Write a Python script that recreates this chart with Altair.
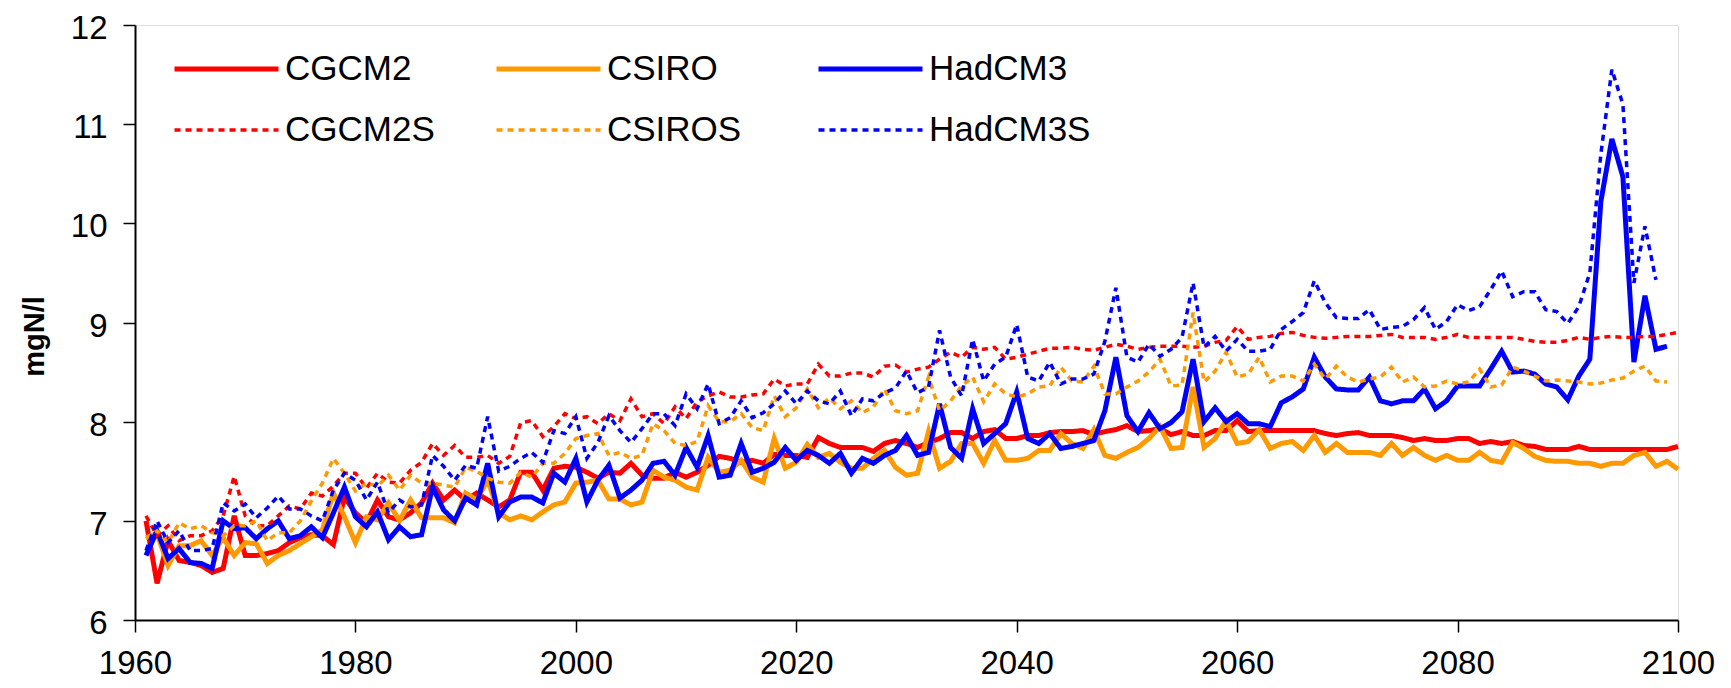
import altair as alt
import pandas as pd

START_YEAR = 1961
SERIES = ["CGCM2", "CSIRO", "HadCM3", "CGCM2S", "CSIROS", "HadCM3S"]
COLORS = ["#FF0000", "#FF9900", "#0000FF", "#FF0000", "#FF9900", "#0000FF"]
DASHES = [[1, 0], [1, 0], [1, 0], [6, 5], [6, 5], [6, 5]]
WIDTHS = [5, 5, 5, 3.5, 3.5, 3.5]
X_TICKS = [1960, 1980, 2000, 2020, 2040, 2060, 2080, 2100]
Y_TICKS = [6, 7, 8, 9, 10, 11, 12]

# CGCM2 (1961-2100)
cgcm2 = [
    7.0, 6.37, 6.8, 6.6, 6.58, 6.55, 6.48, 6.52, 7.05, 6.65,
    6.65, 6.67, 6.7, 6.78, 6.83, 6.86, 6.85, 6.76, 7.24, 7.08,
    6.98, 7.21, 7.04, 7.01, 7.08, 7.18, 7.38, 7.21, 7.31, 7.21,
    7.28, 7.21, 7.14, 7.21, 7.49, 7.49, 7.31, 7.53, 7.55, 7.54,
    7.49, 7.43, 7.49, 7.48, 7.58, 7.46, 7.43, 7.43, 7.49, 7.44,
    7.49, 7.56, 7.65, 7.63, 7.59, 7.61, 7.58, 7.67, 7.66, 7.66,
    7.64, 7.84, 7.78, 7.74, 7.74, 7.74, 7.7, 7.78, 7.81, 7.78,
    7.74, 7.79, 7.83, 7.89, 7.89, 7.83, 7.9, 7.92, 7.83, 7.83,
    7.86, 7.86, 7.89, 7.9, 7.9, 7.91, 7.87, 7.9, 7.92, 7.96,
    7.9, 7.91, 7.93, 7.87, 7.9, 7.86, 7.86, 7.91, 7.91, 8.01,
    7.9, 7.91, 7.91, 7.91, 7.91, 7.91, 7.91, 7.88, 7.86, 7.88,
    7.89, 7.86, 7.86, 7.86, 7.84, 7.81, 7.83, 7.81, 7.81, 7.83,
    7.83, 7.78, 7.8, 7.78, 7.8, 7.76, 7.75, 7.72, 7.72, 7.72,
    7.75, 7.72, 7.72, 7.72, 7.72, 7.72, 7.72, 7.72, 7.72, 7.75,
]

# CSIRO (1961-2100)
csiro = [
    6.83, 6.87, 6.55, 6.75, 6.75, 6.8, 6.65, 6.83, 6.65, 6.78,
    6.77, 6.57, 6.65, 6.7, 6.77, 6.84, 6.91, 7.28, 7.04, 6.78,
    7.04, 7.01, 7.18, 7.0, 7.21, 7.03, 7.03, 7.03, 6.98, 7.28,
    7.21, 7.41, 7.08, 7.01, 7.05, 7.01, 7.09, 7.16, 7.19, 7.38,
    7.39, 7.41, 7.22, 7.22, 7.16, 7.19, 7.51, 7.44, 7.41, 7.34,
    7.31, 7.64, 7.49, 7.51, 7.61, 7.44, 7.39, 7.83, 7.53, 7.59,
    7.77, 7.64, 7.68, 7.59, 7.53, 7.53, 7.63, 7.71, 7.54, 7.46,
    7.48, 7.9, 7.53, 7.6, 7.78, 7.78, 7.58, 7.81, 7.61, 7.61,
    7.63, 7.71, 7.71, 7.88, 7.78, 7.73, 7.92, 7.66, 7.63, 7.69,
    7.74, 7.83, 7.95, 7.73, 7.74, 8.35, 7.74, 7.83, 8.01, 7.78,
    7.8, 7.92, 7.73, 7.78, 7.8, 7.71, 7.86, 7.69, 7.78, 7.69,
    7.69, 7.69, 7.66, 7.78, 7.66, 7.74, 7.66, 7.61, 7.66, 7.61,
    7.61, 7.69, 7.61, 7.59, 7.79, 7.73, 7.65, 7.61, 7.6, 7.6,
    7.58, 7.58, 7.55, 7.58, 7.58, 7.66, 7.69, 7.55, 7.6, 7.52,
]

# HadCM3 (1961-2099)
hadcm3 = [
    6.65, 6.9, 6.62, 6.72, 6.58, 6.57, 6.52, 7.0, 6.92, 6.93,
    6.82, 6.92, 7.0, 6.82, 6.85, 6.94, 6.83, 7.08, 7.34, 7.04,
    6.94, 7.09, 6.81, 6.94, 6.84, 6.86, 7.34, 7.11, 7.0, 7.23,
    7.16, 7.58, 7.04, 7.19, 7.24, 7.24, 7.18, 7.48, 7.39, 7.63,
    7.19, 7.41, 7.56, 7.23, 7.31, 7.41, 7.58, 7.6, 7.46, 7.74,
    7.54, 7.86, 7.44, 7.46, 7.78, 7.49, 7.53, 7.59, 7.74, 7.61,
    7.71, 7.66, 7.58, 7.68, 7.48, 7.63, 7.58, 7.66, 7.71, 7.86,
    7.66, 7.69, 8.18, 7.74, 7.63, 8.13, 7.78, 7.88, 7.98, 8.3,
    7.83, 7.78, 7.88, 7.73, 7.75, 7.78, 7.81, 8.11, 8.65, 8.06,
    7.9, 8.09, 7.93, 7.99, 8.1, 8.63, 8.0, 8.14, 8.0, 8.08,
    7.98, 7.98, 7.95, 8.19, 8.25, 8.33, 8.65, 8.45, 8.33, 8.32,
    8.32, 8.45, 8.21, 8.18, 8.21, 8.21, 8.33, 8.13, 8.21, 8.36,
    8.36, 8.36, 8.53, 8.71, 8.5, 8.51, 8.48, 8.38, 8.35, 8.22,
    8.46, 8.63, 10.22, 10.85, 10.47, 8.6, 9.27, 8.73, 8.76,
]

# CGCM2S (1961-2100)
cgcm2s = [
    7.05, 6.85, 6.95, 6.8, 6.85, 6.85, 6.9, 7.05, 7.45, 7.05,
    6.95, 6.95, 7.05, 7.15, 7.12, 7.28, 7.25, 7.35, 7.48, 7.48,
    7.33, 7.48, 7.39, 7.38, 7.51, 7.59, 7.78, 7.66, 7.76, 7.64,
    7.64, 7.66, 7.58, 7.65, 7.99, 8.01, 7.85, 7.95, 8.08, 8.03,
    8.05, 7.98, 8.08, 8.01, 8.23, 8.05, 8.08, 7.98, 8.15, 8.03,
    8.2, 8.26, 8.3, 8.25, 8.25, 8.27, 8.28, 8.43, 8.36, 8.38,
    8.38, 8.58, 8.46, 8.46, 8.49, 8.49, 8.45, 8.56, 8.57, 8.5,
    8.53, 8.55, 8.63, 8.7, 8.65, 8.75, 8.73, 8.75, 8.63, 8.65,
    8.68, 8.71, 8.74, 8.74, 8.75, 8.73, 8.72, 8.75, 8.78, 8.76,
    8.73, 8.75, 8.76, 8.76, 8.76, 8.75, 8.76, 8.8, 8.82, 8.96,
    8.83, 8.85, 8.86, 8.89, 8.9, 8.87, 8.85, 8.84, 8.85, 8.86,
    8.86, 8.86, 8.87, 8.88, 8.85, 8.85, 8.85, 8.83, 8.85, 8.88,
    8.85, 8.85, 8.85, 8.85, 8.85, 8.83, 8.81, 8.8, 8.8, 8.82,
    8.85, 8.83, 8.85, 8.86, 8.85, 8.85, 8.86, 8.86, 8.88, 8.9,
]

# CSIROS (1961-2099)
csiros = [
    6.82, 6.9, 6.78, 6.98, 6.92, 6.95, 6.88, 6.85, 6.95, 6.95,
    7.0, 6.8, 6.88, 6.88, 7.0, 7.2, 7.38, 7.63, 7.48, 7.3,
    7.38, 7.35, 7.46, 7.31, 7.46, 7.38, 7.38, 7.36, 7.34, 7.54,
    7.5, 7.43, 7.39, 7.38, 7.49, 7.44, 7.58, 7.58, 7.68, 7.83,
    7.86, 7.88, 7.66, 7.69, 7.63, 7.66, 7.98, 7.91, 7.78, 7.76,
    7.8, 8.16, 8.0, 8.0, 8.08, 7.94, 7.91, 8.26, 8.05, 8.14,
    8.33, 8.14, 8.24, 8.13, 8.21, 8.09, 8.15, 8.33, 8.11, 8.08,
    8.11, 8.45, 8.11, 8.21, 8.36, 8.45, 8.2, 8.38, 8.28, 8.25,
    8.28, 8.35, 8.36, 8.55, 8.41, 8.4, 8.56, 8.28, 8.28, 8.35,
    8.41, 8.5, 8.63, 8.36, 8.37, 9.1, 8.4, 8.51, 8.7, 8.45,
    8.48, 8.65, 8.4, 8.46, 8.46, 8.41, 8.58, 8.43, 8.56, 8.45,
    8.4, 8.43, 8.45, 8.55, 8.4, 8.45, 8.35, 8.36, 8.41, 8.38,
    8.4, 8.53, 8.35, 8.37, 8.55, 8.51, 8.46, 8.41, 8.42, 8.41,
    8.4, 8.38, 8.39, 8.42, 8.44, 8.51, 8.56, 8.41, 8.4,
]

# HadCM3S (1961-2098)
hadcm3s = [
    6.7, 7.0, 6.78, 6.9, 6.7, 6.7, 6.72, 7.18, 7.1, 7.17,
    7.03, 7.13, 7.25, 7.12, 7.12, 7.05, 7.0, 7.31, 7.48, 7.41,
    7.21, 7.39, 7.08, 7.21, 7.14, 7.16, 7.66, 7.55, 7.41, 7.56,
    7.53, 8.05, 7.5, 7.55, 7.63, 7.69, 7.59, 7.91, 7.88, 8.05,
    7.63, 7.79, 8.06, 7.91, 7.79, 7.93, 8.08, 8.08, 7.96, 8.28,
    8.13, 8.38, 7.98, 8.04, 8.21, 8.04, 8.09, 8.18, 8.31, 8.18,
    8.31, 8.21, 8.18, 8.31, 8.06, 8.23, 8.21, 8.29, 8.34, 8.51,
    8.29, 8.35, 8.92, 8.45, 8.26, 8.83, 8.41, 8.58, 8.65, 8.98,
    8.45, 8.41, 8.6, 8.38, 8.43, 8.43, 8.48, 8.81, 9.35, 8.65,
    8.6, 8.78, 8.66, 8.73, 8.85, 9.4, 8.75, 8.86, 8.71, 8.83,
    8.71, 8.71, 8.73, 8.93, 9.01, 9.1, 9.42, 9.2, 9.05, 9.04,
    9.04, 9.13, 8.93, 8.95, 8.96, 9.03, 9.15, 8.93, 9.01, 9.18,
    9.12, 9.16, 9.33, 9.52, 9.26, 9.31, 9.31, 9.13, 9.11, 8.99,
    9.16, 9.5, 10.7, 11.55, 11.2, 9.4, 9.97, 9.43,
]

VALUES = [cgcm2, csiro, hadcm3, cgcm2s, csiros, hadcm3s]

rows = []
for name, vals, w in zip(SERIES, VALUES, WIDTHS):
    for i, v in enumerate(vals):
        rows.append({"year": START_YEAR + i, "value": v, "model": name, "w": w})
df = pd.DataFrame(rows)

FONT = "Liberation Sans"

legend = alt.Legend(
    title=None,
    orient="none",
    direction="horizontal",
    legendX=37,
    legendY=24,
    columns=3,
    gridAlign="all",
    columnPadding=47,
    rowPadding=21,
    clipHeight=40,
    padding=0,
    symbolType="stroke",
    symbolSize=10816,
    symbolStrokeWidth=alt.ExprRef(
        expr="(isValid(datum) && indexof(['CGCM2S','CSIROS','HadCM3S'], datum.value) >= 0 ? 3.5 : 5)"
    ),
    labelFont=FONT,
    labelFontSize=35,
    labelColor="black",
    labelOffset=4,
    labelLimit=400,
)

chart = (
    alt.Chart(df)
    .mark_line(strokeCap="butt")
    .encode(
        x=alt.X(
            "year:Q",
            scale=alt.Scale(domain=[1960, 2100], nice=False, zero=False),
            axis=alt.Axis(
                values=X_TICKS,
                format="d",
                title=None,
                labelFlush=False,
                labelOverlap=False,
                tickSize=12,
                tickWidth=1.5,
                tickColor="black",
                domainColor="black",
                domainWidth=2,
                labelPadding=15,
                labelFont=FONT,
                labelFontSize=33,
                labelColor="black",
                grid=False,
            ),
        ),
        y=alt.Y(
            "value:Q",
            scale=alt.Scale(domain=[6, 12], nice=False, zero=False),
            axis=alt.Axis(
                values=Y_TICKS,
                format="d",
                title="mgN/l",
                titleFont=FONT,
                titleFontSize=29,
                titleFontWeight="bold",
                titleColor="black",
                titleAngle=270,
                titleX=-101,
                titleY=311,
                titleAlign="center",
                titleBaseline="middle",
                tickSize=12,
                tickWidth=1.5,
                tickColor="black",
                domainColor="black",
                domainWidth=2,
                labelPadding=16,
                labelOffset=3.5,
                labelFont=FONT,
                labelFontSize=33,
                labelColor="black",
                grid=False,
            ),
        ),
        color=alt.Color("model:N", scale=alt.Scale(domain=SERIES, range=COLORS), legend=legend),
        strokeDash=alt.StrokeDash("model:N", scale=alt.Scale(domain=SERIES, range=DASHES), legend=legend),
        strokeWidth=alt.StrokeWidth("w:Q", scale=None, legend=None),
    )
    .properties(
        width=1543,
        height=595,
        autosize=alt.AutoSizeParams(type="none"),
        padding={"left": 127, "top": 17, "right": 45, "bottom": 60},
    )
    .configure_view(stroke="#808080", strokeWidth=2.5)
    .configure(background="white")
)

chart.save("out.html", embed_options={"renderer": "svg", "actions": False})
